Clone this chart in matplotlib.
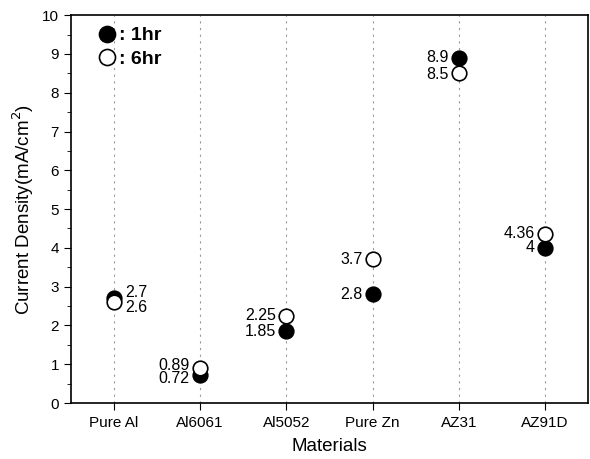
import matplotlib.pyplot as plt
import numpy as np

plt.rcParams['font.family'] = ['Liberation Sans', 'DejaVu Sans']

materials = ['Pure Al', 'Al6061', 'Al5052', 'Pure Zn', 'AZ31', 'AZ91D']
hr1 = [2.7, 0.72, 1.85, 2.8, 8.9, 4.0]
hr6 = [2.6, 0.89, 2.25, 3.7, 8.5, 4.36]
lab1 = ['2.7', '0.72', '1.85', '2.8', '8.9', '4']
lab6 = ['2.6', '0.89', '2.25', '3.7', '8.5', '4.36']

# small vertical nudges (points) so close labels don't collide
dy1 = [4.5, -2.5, 0, 0, 0.5, 0]
dy6 = [-4, 2.5, 0, 0, -1, 0]

x = np.arange(len(materials))
fig = plt.figure(figsize=(5.9, 4.59), dpi=100)
ax = fig.add_axes([0.12, 0.122, 0.877, 0.845])

for xi in x:
    ax.axvline(xi, color='#999999', lw=0.8, ls=(0, (2, 4)), zorder=0)

ax.plot(x, hr1, 'o', ms=10.5, mfc='black', mec='black', mew=1.2, ls='none', label=': 1hr', zorder=3)
ax.plot(x, hr6, 'o', ms=10.5, mfc='white', mec='black', mew=1.2, ls='none', label=': 6hr', zorder=4)

for i in range(len(x)):
    if i == 0:
        ha, dx = 'left', 8
    else:
        ha, dx = 'right', -7.5
    ax.annotate(lab1[i], (x[i], hr1[i]), xytext=(dx, dy1[i]), textcoords='offset points',
                ha=ha, va='center', fontsize=11.5)
    ax.annotate(lab6[i], (x[i], hr6[i]), xytext=(dx, dy6[i]), textcoords='offset points',
                ha=ha, va='center', fontsize=11.5)

ax.set_xlim(-0.5, 5.5)
ax.set_ylim(0, 10)
ax.set_xticks(x)
ax.set_xticklabels(materials, fontsize=11)
ax.set_yticks(np.arange(0, 11, 1))
ax.set_yticks(np.arange(0.5, 10, 1), minor=True)
ax.tick_params(axis='y', which='major', direction='out', length=5, labelsize=11)
ax.tick_params(axis='y', which='minor', direction='out', length=3)
ax.tick_params(axis='x', direction='out', length=5, pad=4)
for s in ax.spines.values():
    s.set_linewidth(1.2)

ax.set_xlabel('Materials', fontsize=13.5, labelpad=6)
ax.set_ylabel('Current Density(mA/cm$^2$)', fontsize=13.5, labelpad=4)

leg = ax.legend(loc='upper left', frameon=False, handletextpad=0.0, handlelength=1.2,
                borderaxespad=0.2, labelspacing=0.3, prop={'weight': 'bold', 'size': 14},
                bbox_to_anchor=(0.025, 1.0), markerscale=1.1)

fig.savefig('out.png', dpi=100)
